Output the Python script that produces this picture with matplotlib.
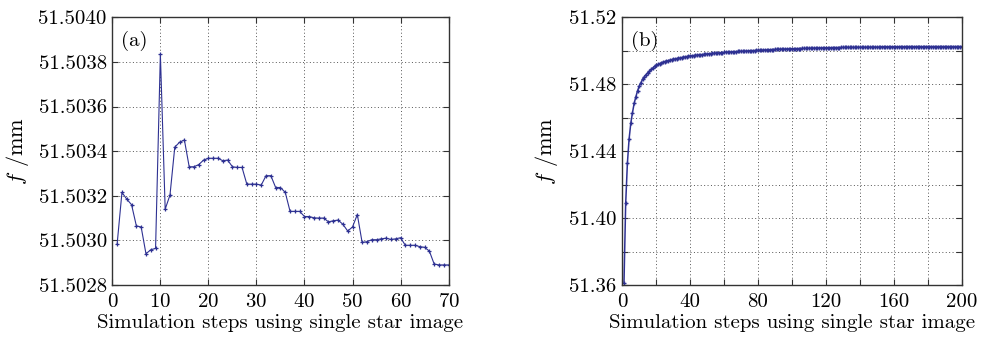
import numpy as np
import matplotlib.pyplot as plt
from matplotlib.ticker import MultipleLocator, FuncFormatter

plt.rcParams['font.family'] = ['cmr10', 'DejaVu Serif']
plt.rcParams['mathtext.fontset'] = 'cm'
plt.rcParams['axes.formatter.use_mathtext'] = True

# panel (a): focal length per simulation step, offset from 51.5 mm (x1e-4 mm)
steps_a = list(range(1, 71))
f_a_offset = [29.84, 32.15, 31.85, 31.60, 30.65, 30.60, 29.40, 29.58, 29.64, 38.35,
              31.40, 32.03, 34.18, 34.40, 34.50, 33.30, 33.30, 33.40, 33.60, 33.68,
              33.68, 33.68, 33.57, 33.60, 33.30, 33.27, 33.27, 32.52, 32.52, 32.52,
              32.48, 32.90, 32.90, 32.37, 32.37, 32.15, 31.30, 31.30, 31.30, 31.07,
              31.07, 31.01, 31.00, 31.00, 30.83, 30.88, 30.91, 30.72, 30.42, 30.60,
              31.16, 29.91, 29.94, 30.03, 30.03, 30.07, 30.10, 30.04, 30.07, 30.12,
              29.78, 29.78, 29.78, 29.72, 29.69, 29.52, 28.94, 28.90, 28.90, 28.90]
f_a = [51.5 + v * 1e-4 for v in f_a_offset]

# panel (b)
steps_b = list(range(1, 201))
f_b = [51.3614, 51.4088, 51.4327, 51.4472, 51.4566, 51.4630, 51.4686, 51.4725, 51.4761, 51.4789,
       51.4810, 51.4830, 51.4845, 51.4858, 51.4869, 51.4879, 51.4889, 51.4897, 51.4906, 51.4913,
       51.4918, 51.4923, 51.4927, 51.4932, 51.4935, 51.4938, 51.4941, 51.4944, 51.4946, 51.4949,
       51.4951, 51.4953, 51.4955, 51.4957, 51.4959, 51.4961, 51.4963, 51.4965, 51.4967, 51.4969,
       51.4970, 51.4971, 51.4972, 51.4974, 51.4975, 51.4976, 51.4977, 51.4978, 51.4979, 51.4981,
       51.4982, 51.4983, 51.4984, 51.4985, 51.4986, 51.4986, 51.4987, 51.4988, 51.4989, 51.4990,
       51.4991, 51.4992, 51.4992, 51.4993, 51.4994, 51.4994, 51.4995, 51.4996, 51.4996, 51.4997,
       51.4997, 51.4998, 51.4998, 51.4999, 51.5000, 51.5000, 51.5001, 51.5001, 51.5002, 51.5003,
       51.5003, 51.5004, 51.5004, 51.5005, 51.5005, 51.5006, 51.5006, 51.5007, 51.5007, 51.5008,
       51.5008, 51.5009, 51.5009, 51.5010, 51.5010, 51.5010, 51.5011, 51.5011, 51.5011, 51.5012,
       51.5012, 51.5012, 51.5013, 51.5013, 51.5013, 51.5014, 51.5014, 51.5014, 51.5015, 51.5015,
       51.5015, 51.5016, 51.5016, 51.5016, 51.5016, 51.5017, 51.5017, 51.5017, 51.5017, 51.5018,
       51.5018, 51.5018, 51.5018, 51.5019, 51.5019, 51.5019, 51.5019, 51.5019, 51.5020, 51.5020,
       51.5020, 51.5020, 51.5021, 51.5020, 51.5020, 51.5021, 51.5020, 51.5021, 51.5021, 51.5021,
       51.5021, 51.5021, 51.5021, 51.5021, 51.5022, 51.5021, 51.5022, 51.5022, 51.5022, 51.5022,
       51.5022, 51.5022, 51.5024, 51.5024, 51.5024, 51.5024, 51.5024, 51.5024, 51.5024, 51.5024,
       51.5024, 51.5024, 51.5024, 51.5025, 51.5024, 51.5024, 51.5025, 51.5024, 51.5025, 51.5025,
       51.5025, 51.5024, 51.5025, 51.5025, 51.5025, 51.5025, 51.5024, 51.5025, 51.5025, 51.5025,
       51.5025, 51.5025, 51.5025, 51.5025, 51.5024, 51.5025, 51.5025, 51.5025, 51.5025, 51.5025,
       51.5025, 51.5025, 51.5025, 51.5025, 51.5025, 51.5025, 51.5025, 51.5025, 51.5025, 51.5025]

line_col = '#2e3192'
fs = 15

fig = plt.figure(figsize=(9.82, 3.37), dpi=100)
ax1 = fig.add_axes([0.1144, 0.1543, 0.3424, 0.7944])
ax2 = fig.add_axes([0.6337, 0.1543, 0.3456, 0.7944])


def style(ax):
    ax.tick_params(direction='in', length=4, width=0.8, top=True, right=True,
                   labelsize=fs, pad=4, color='#333333')
    ax.tick_params(axis='x', pad=6)
    for s in ax.spines.values():
        s.set_color('#333333')
        s.set_linewidth(1.0)
    ax.grid(True, linestyle=(0, (1, 2.5)), color='#555555', linewidth=0.7)
    ax.set_xlabel('Simulation steps using single star image', fontsize=15, labelpad=2)
    ax.set_ylabel(r'$f$ /mm', fontsize=16)


# (a)
ax1.plot(steps_a, f_a, '-', color=line_col, lw=0.8, marker='+', ms=3, mew=0.9)
ax1.set_xlim(0, 70)
ax1.set_ylim(51.5028, 51.5040)
ax1.xaxis.set_major_locator(MultipleLocator(10))
ax1.set_yticks(np.arange(51.5028, 51.50401, 0.0002))
ax1.yaxis.set_major_formatter(FuncFormatter(lambda v, p: '%.4f' % v))
style(ax1)
ax1.yaxis.labelpad = 5
ax1.text(0.025, 0.95, '(a)', transform=ax1.transAxes, fontsize=fs, va='top', ha='left')

# (b)
ax2.plot(steps_b, f_b, '-', color=line_col, lw=1.1, marker='+', ms=3.5, mew=1.0)
ax2.set_xlim(0, 200)
ax2.set_ylim(51.36, 51.52)
ax2.xaxis.set_major_locator(MultipleLocator(20))
ax2.yaxis.set_major_locator(MultipleLocator(0.02))
ax2.xaxis.set_major_formatter(FuncFormatter(lambda v, p: '%d' % round(v) if round(v) % 40 == 0 else ''))
ax2.yaxis.set_major_formatter(FuncFormatter(lambda v, p: '%.2f' % v if round(v * 100) % 4 == 0 else ''))
style(ax2)
ax2.yaxis.labelpad = 7
ax2.text(0.025, 0.95, '(b)', transform=ax2.transAxes, fontsize=fs, va='top', ha='left')

fig.savefig('out.png', dpi=100, facecolor='white')
